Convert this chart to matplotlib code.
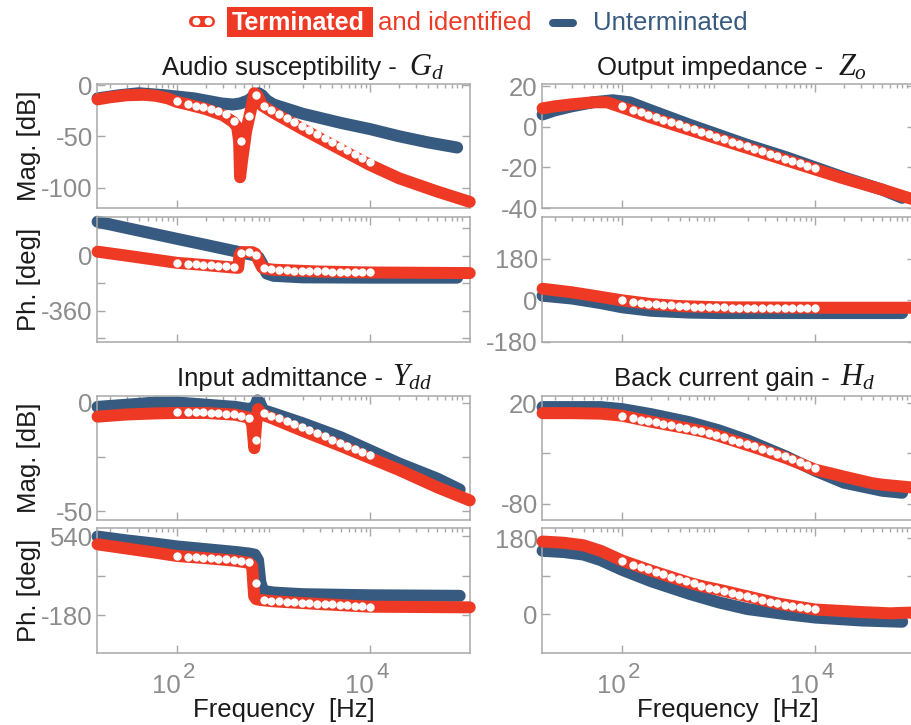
import matplotlib
matplotlib.use('Agg')
import matplotlib.pyplot as plt
from matplotlib.lines import Line2D
from matplotlib.patches import Rectangle
from matplotlib.transforms import blended_transform_factory, offset_copy

plt.rcParams['font.family'] = ['Liberation Sans', 'DejaVu Sans']
plt.rcParams['mathtext.fontset'] = 'custom'
plt.rcParams['mathtext.rm'] = 'Liberation Sans'
plt.rcParams['mathtext.it'] = 'Liberation Serif:italic'

RED = '#EE3A25'
BLUE = '#375A80'
GRAY = '#8C8C8C'
FRAME = '#A8A8A8'
INK = '#1a1a1a'

W, H = 912, 725
XLIM = (14.8, 1.087e5)
FS = 18.5

# identified points (white dots), shared frequency grid [Hz]
f_id = [100, 130, 156, 187, 224, 268, 321, 385, 461, 553, 663, 794, 952, 1141,
        1367, 1638, 1963, 2353, 2820, 3379, 4050, 4853, 5816, 6970, 8353, 10000]

# ---- audio susceptibility Gd ----
gd_mag_f_t = [15, 20, 30, 45, 60, 80, 100, 130, 200, 300, 380, 420, 440, 450, 470,
              520, 580, 630, 680, 760, 1000, 2000, 5000, 10000, 20000, 50000, 108000]
gd_mag_t = [-14, -12, -10, -9.5, -10.5, -13, -16.5, -19, -23.5, -29.5, -36, -41, -55,
            -90, -75, -45, -25, -8, -10, -20, -27, -43, -63, -78, -91, -104, -114]
gd_mag_f_u = [15, 25, 40, 75, 150, 290, 380, 450, 550, 620, 700, 760, 850, 1000,
              2000, 5000, 10000, 20000, 40000, 80000]
gd_mag_u = [-13, -10, -8, -10, -13, -18, -19, -18, -15, -11, -8, -10, -15, -19,
            -28, -37, -43, -50, -56, -61]
gd_mag_id = [-16, -18.5, -20, -21.5, -23, -25.5, -28.5, -35, -55, -30, -10, -20,
             -23.9, -27.8, -31.7, -35.7, -39.6, -43.5, -47.5, -51.4, -55.3, -59.3,
             -63.2, -67.1, -71, -75]

gd_ph_f_t = [15, 30, 60, 100, 200, 385, 430, 445, 470, 600, 650, 700, 760, 800,
             1000, 3000, 10000, 108000]
gd_ph_t = [28, 2, -25, -45, -60, -76, -78, 10, 25, 25, 15, -30, -75, -82, -90,
           -102, -108, -112]
gd_ph_f_u = [15, 30, 60, 100, 200, 400, 617, 700, 760, 850, 1000, 2000, 10000, 80000]
gd_ph_u = [224, 183, 142, 112, 72, 31, 6, -10, -50, -115, -130, -140, -142, -142]
gd_ph_id = [-46, -51, -55, -59, -62, -65, -68, -72, 20, 25, 8, -78, -88, -92, -94,
            -96, -98, -99, -100, -101, -102, -103, -104, -105, -106, -107]

# ---- output impedance Zo ----
zo_mag_f_t = [15, 20, 30, 50, 70, 100, 200, 500, 1000, 2000, 5000, 10000, 20000,
              50000, 108000]
zo_mag_t = [9, 10, 11, 12, 12, 9.5, 4.5, -1.5, -6, -10.5, -16.5, -21, -25.5, -31, -36]
zo_mag_f_u = [15, 20, 30, 50, 80, 120, 200, 500, 1000, 2000, 5000, 10000, 20000,
              50000, 80000]
zo_mag_u = [6, 8, 10, 12, 13, 12, 8, 1, -4, -9, -15, -20, -25, -31, -35]
zo_mag_id = [10, 8.3, 7.1, 5.9, 4.7, 3.5, 2.3, 1.1, -0.1, -1.3, -2.5, -3.7, -4.9,
             -6.1, -7.3, -8.5, -9.7, -10.9, -12.1, -13.3, -14.5, -15.7, -16.9,
             -18.1, -19.3, -20.5]

zo_ph_f_t = [15, 30, 60, 100, 200, 400, 1000, 10000, 108000]
zo_ph_t = [50, 35, 15, 0, -16, -25, -30, -32, -32]
zo_ph_f_u = [15, 30, 60, 100, 200, 500, 1000, 80000]
zo_ph_u = [20, 8, -12, -30, -45, -53, -55, -55]
zo_ph_id = [0, -8, -12, -15, -18, -20, -22, -24, -26, -27, -28, -29, -30, -30, -31,
            -31, -31, -32, -32, -32, -32, -32, -32, -32, -32, -32]

# ---- input admittance Ydd ----
ydd_mag_f_t = [15, 30, 60, 100, 200, 400, 560, 600, 632, 660, 690, 760, 1000, 2000,
               5000, 10000, 20000, 50000, 108000]
ydd_mag_t = [-6.5, -5.5, -5, -4.8, -4.8, -5.6, -7, -10, -21, -10, -3, -5.5, -7.5,
             -13, -20, -25.5, -31, -39, -45]
ydd_mag_f_u = [15, 30, 60, 100, 200, 400, 560, 640, 680, 720, 780, 1000, 2000, 5000,
               10000, 20000, 50000, 85000]
ydd_mag_u = [-2, -1, 0, 0, -1, -2, -3, -2, 1, 0, -3.5, -5, -9.5, -16, -22, -28,
             -35, -40]
ydd_mag_id = [-4.5, -4.3, -4.3, -4.4, -4.6, -4.8, -5.1, -5.5, -6.2, -7, -17, -4.8,
              -6, -7.2, -8.5, -9.9, -11.3, -12.7, -14.1, -15.5, -17, -18.4, -19.8,
              -21.2, -22.6, -24]

ydd_ph_f_t = [15, 30, 60, 100, 200, 400, 560, 600, 615, 630, 660, 720, 1000, 3000,
              10000, 108000]
ydd_ph_t = [464, 426, 388, 358, 338, 315, 295, 270, 120, -10, -35, -42, -55, -80,
            -104, -110]
ydd_ph_f_u = [15, 30, 60, 100, 200, 400, 560, 640, 690, 730, 780, 1000, 2000,
              10000, 85000]
ydd_ph_u = [535, 500, 470, 445, 420, 395, 380, 370, 320, 120, 40, 25, 10, 0, -5]
ydd_ph_id = [360, 352, 348, 343, 338, 333, 328, 322, 315, 300, 114, -40, -50, -55,
             -60, -64, -68, -72, -76, -80, -84, -88, -92, -96, -100, -104]

# ---- back current gain Hd ----
hd_mag_f_t = [15, 30, 60, 100, 200, 500, 711, 1000, 2560, 5000, 10000, 20000,
              39000, 50000, 108000]
hd_mag_t = [10, 10, 9.5, 7.5, 1.5, -5.5, -8.5, -12.5, -25, -34.5, -46, -53, -59.5,
            -61, -64]
hd_mag_f_u = [15, 30, 60, 100, 200, 500, 1000, 2000, 5000, 10000, 20000, 50000, 80000]
hd_mag_u = [16, 16, 16, 14, 9, 1, -7, -17, -33, -47, -59, -67, -69]
hd_mag_id = [7, 5, 3.6, 2.2, 0.8, -0.6, -2.1, -3.5, -4.9, -6.4, -7.8, -9.7, -11.9,
             -14.1, -16.4, -18.6, -20.8, -23, -25.4, -27.9, -30.4, -33, -35.9,
             -38.8, -41.7, -44.7]

hd_ph_f_t = [15, 25, 40, 60, 100, 200, 500, 711, 1000, 2000, 4150, 10000, 30000,
             60000, 108000]
hd_ph_t = [172, 169, 163, 150, 127, 103, 74, 65, 58, 42, 25, 11, 5, 2, 4]
hd_ph_f_u = [15, 25, 40, 60, 100, 200, 500, 1000, 2000, 5000, 10000, 30000, 80000]
hd_ph_u = [150, 147, 141, 128, 105, 78, 48, 28, 12, 0, -8, -15, -18]
hd_ph_id = [126, 117, 111, 106, 100, 95, 89, 84, 78, 73, 67, 62.5, 58.5, 54.5, 50,
            46, 42, 38, 34, 29.5, 25.5, 22.5, 20, 17, 14.5, 12]

xtick_f = [1e2, 1e4]
xtick_exp = ['2', '4']

LW = 12 * 72 / 100     # band width of the measured curves (12 px)
DOT = 6.0


def box(left, top, right, bottom):
    return [left / W, 1 - bottom / H, (right - left) / W, (bottom - top) / H]


def fx(x):
    return x / W


def fy(y):
    return 1 - y / H


def draw(ax, fu, vu, ft, vt, vid):
    ax.plot(fu, vu, color=BLUE, lw=LW, solid_capstyle='round',
            solid_joinstyle='round', clip_on=False, zorder=2)
    ax.plot(ft, vt, color=RED, lw=LW, solid_capstyle='round',
            solid_joinstyle='round', clip_on=False, zorder=3)
    ax.plot(f_id, vid, 'o', ms=DOT, mfc='white', mec='white', mew=0,
            clip_on=False, zorder=4)


def frame(ax, ylim, yticks, ylabels):
    ax.set_xscale('log')
    ax.set_xlim(XLIM)
    ax.set_ylim(ylim)
    ax.set_yticks(yticks)
    ax.set_yticklabels(ylabels)
    ax.set_xticks(xtick_f)
    ax.set_xticklabels([])
    ax.tick_params(which='both', direction='in', top=True, right=True,
                   color=FRAME, labelcolor=GRAY, labelsize=FS, width=1)
    ax.tick_params(which='major', length=6)
    ax.tick_params(which='minor', length=3, bottom=False)
    ax.tick_params(axis='y', pad=3)
    for s in ax.spines.values():
        s.set_color(FRAME)
        s.set_linewidth(1.1)


def decade_labels(ax):
    # 10 with a large raised exponent, centred on each decade tick
    tr = blended_transform_factory(ax.transData, fig.transFigure)
    for f, e in zip(xtick_f, xtick_exp):
        ax.text(f, fy(693), '10', transform=offset_copy(tr, fig, x=4, units='dots'),
                ha='right', va='baseline', fontsize=FS, color=GRAY)
        ax.text(f, fy(678), e, transform=offset_copy(tr, fig, x=6, units='dots'),
                ha='left', va='baseline', fontsize=16, color=GRAY)


fig = plt.figure(figsize=(W / 100, H / 100), dpi=100)

cols = [(97, 470), (542, 915)]
rows = [((84, 208), (217, 342)), ((396, 520), (528, 653))]

panels = [
    # (row, col, mag data, phase data, mag frame, phase frame)
    (0, 0, (gd_mag_f_u, gd_mag_u, gd_mag_f_t, gd_mag_t, gd_mag_id),
     (gd_ph_f_u, gd_ph_u, gd_ph_f_t, gd_ph_t, gd_ph_id),
     ((-120, 1), [0, -50, -100], ['0', '-50', '-100']),
     ((-563, 255), [180, 0, -180, -360, -540], ['', '0', '', '-360', ''])),
    (0, 1, (zo_mag_f_u, zo_mag_u, zo_mag_f_t, zo_mag_t, zo_mag_id),
     (zo_ph_f_u, zo_ph_u, zo_ph_f_t, zo_ph_t, zo_ph_id),
     ((-40, 21), [20, 0, -20, -40], ['20', '0', '-20', '-40']),
     ((-180, 360), [180, 0, -180], ['180', '0', '-180'])),
    (1, 0, (ydd_mag_f_u, ydd_mag_u, ydd_mag_f_t, ydd_mag_t, ydd_mag_id),
     (ydd_ph_f_u, ydd_ph_u, ydd_ph_f_t, ydd_ph_t, ydd_ph_id),
     ((-54, 3), [0, -25, -50], ['0', '', '-50']),
     ((-526, 613), [540, 180, -180], ['540', '', '-180'])),
    (1, 1, (hd_mag_f_u, hd_mag_u, hd_mag_f_t, hd_mag_t, hd_mag_id),
     (hd_ph_f_u, hd_ph_u, hd_ph_f_t, hd_ph_t, hd_ph_id),
     ((-96, 27), [20, -30, -80], ['20', '', '-80']),
     ((-92, 204), [180, 90, 0], ['180', '', '0'])),
]

for r, c, mag, ph, mfr, pfr in panels:
    left, right = cols[c]
    (mt, mb), (pt, pb) = rows[r]
    axm = fig.add_axes(box(left, mt, right, mb))
    axp = fig.add_axes(box(left, pt, right, pb))
    draw(axm, *mag)
    draw(axp, *ph)
    frame(axm, *mfr)
    frame(axp, *pfr)
    if r == 1:
        decade_labels(axp)

# panel titles: plain part + italic symbol
titles = [
    ('Audio susceptibility -', r'$G_d$', 397, 409, 75),
    ('Output impedance -', r'$Z_o$', 823, 838, 75),
    ('Input admittance -', r'$Y_{dd}$', 383, 392, 386),
    ('Back current gain -', r'$H_d$', 830, 840, 386),
]
for txt, sym, xe, xs, yb in titles:
    fig.text(fx(xe), fy(yb), txt, ha='right', va='baseline', fontsize=FS,
             color=INK)
    fig.text(fx(xs), fy(yb), sym, ha='left', va='baseline', fontsize=22,
             color=INK)

# axis labels
for yc in (146, 458):
    fig.text(fx(29), fy(yc), 'Mag. [dB]', rotation=90, ha='center', va='center',
             fontsize=FS, color=INK)
for yc in (279.5, 590.5):
    fig.text(fx(29), fy(yc), 'Ph. [deg]', rotation=90, ha='center', va='center',
             fontsize=FS, color=INK)
for xc in (284, 728):
    fig.text(fx(xc), fy(717), 'Frequency  [Hz]', ha='center', va='baseline',
             fontsize=FS, color=INK)

# legend
tf = fig.transFigure
fig.add_artist(Line2D([fx(194), fx(209)], [fy(21), fy(21)], transform=tf,
                      color=RED, lw=11 * 0.72, solid_capstyle='round'))
fig.add_artist(Line2D([fx(196.5), fx(208)], [fy(21), fy(21)], transform=tf,
                      ls='none', marker='o', ms=5.6, mfc='white', mec='white',
                      mew=0))
fig.add_artist(Rectangle((fx(227), fy(37)), 146 / W, 30 / H, transform=tf,
                         facecolor=RED, edgecolor='none'))
fig.text(fx(231.5), fy(29.5), 'Terminated', ha='left', va='baseline',
         fontsize=18, color='white', fontweight='bold')
fig.text(fx(378), fy(29.5), 'and identified', ha='left', va='baseline',
         fontsize=FS, color=RED)
fig.add_artist(Line2D([fx(553), fx(573)], [fy(22.5), fy(22.5)], transform=tf,
                      color=BLUE, lw=8 * 0.72, solid_capstyle='round'))
fig.text(fx(593), fy(29.5), 'Unterminated', ha='left', va='baseline',
         fontsize=FS, color=BLUE)

fig.savefig('out.png', dpi=100)
